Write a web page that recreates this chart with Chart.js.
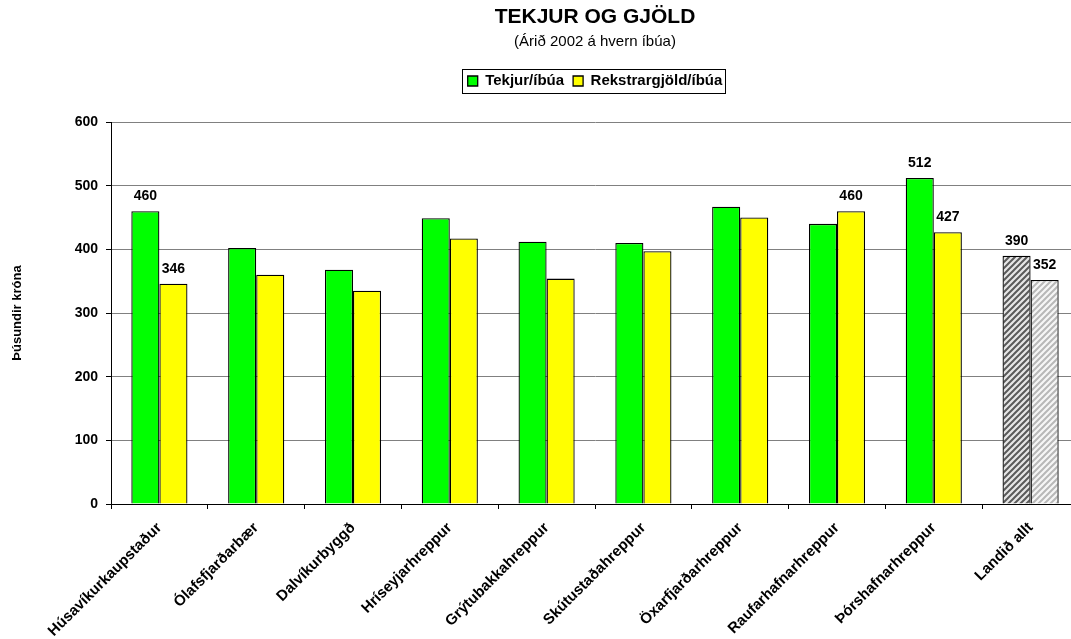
<!DOCTYPE html>
<html>
<head>
<meta charset="utf-8">
<script src="https://cdn.jsdelivr.net/npm/chart.js@4.4.1/dist/chart.umd.min.js"></script>
<style>
  html, body { margin: 0; padding: 0; background: #fff; overflow: hidden; }
  #wrap { width: 1080px; height: 639px; }
</style>
</head>
<body>
<div id="wrap"><canvas id="myChart"></canvas></div>
<script>
var sveitarfelog = ["Húsavíkurkaupstaður", "Ólafsfjarðarbær", "Dalvíkurbyggð", "Hríseyjarhreppur",
    "Grýtubakkahreppur", "Skútustaðahreppur", "Öxarfjarðarhreppur", "Raufarhafnarhreppur",
    "Þórshafnarhreppur", "Landið allt"];
var tekjur = [460, 402, 368, 449, 412, 410, 467, 440, 512, 390];
var gjold = [346, 360, 335, 417, 354, 397, 450, 460, 427, 352];
// hvaða súlur fá tölugildi
var merktTekjur = [0, 8, 9];
var merktGjold = [0, 7, 8, 9];
var yTicks = [0, 100, 200, 300, 400, 500, 600];

// skástrikað mynstur fyrir landið allt
function strik(lina, bakgrunnur) {
    var c = document.createElement("canvas");
    c.width = 6; c.height = 6;
    var g = c.getContext("2d");
    g.fillStyle = bakgrunnur;
    g.fillRect(0, 0, 6, 6);
    g.strokeStyle = lina;
    g.lineWidth = 2;
    g.beginPath();
    g.moveTo(-1, 7); g.lineTo(7, -1);
    g.moveTo(-4, 4); g.lineTo(4, -4);
    g.moveTo(2, 10); g.lineTo(10, 2);
    g.stroke();
    return g.createPattern(c, "repeat");
}
var ctx = document.getElementById("myChart").getContext("2d");
var landTekjur = strik("#5a5a5a", "#e6e6e6");
var landGjold = strik("#b8b8b8", "#f6f6f6");

var graenir = tekjur.map((v, i) => i == tekjur.length - 1 ? landTekjur : "#00ff00");
var gulir = gjold.map((v, i) => i == gjold.length - 1 ? landGjold : "#ffff00");

// bil milli skýringar og grafs
var bil = {
    id: "bil",
    beforeInit(chart) {
        Chart.layouts.addBox(chart, {
            position: "top", weight: 100, fullSize: false, options: {},
            isHorizontal: () => true,
            update(w, h) { this.width = w; this.height = 23.5; },
            draw() {}
        });
    }
};

// rammi um skýringu og tölur ofan á súlum
var teikna = {
    id: "teikna",
    afterDraw(chart) {
        var c = chart.ctx;
        var lg = chart.legend;
        if (lg && lg.legendHitBoxes.length) {
            var hb = lg.legendHitBoxes;
            var l = Math.min(...hb.map(h => h.left)) - 6;
            var r = Math.max(...hb.map(h => h.left + h.width)) + 2;
            var t = Math.min(...hb.map(h => h.top)) - 4.5;
            var b = Math.max(...hb.map(h => h.top + h.height)) + 4.5;
            c.save();
            c.strokeStyle = "#000";
            c.lineWidth = 1;
            c.strokeRect(Math.round(l) + 0.5, Math.round(t) + 0.5, Math.round(r - l), Math.round(b - t));
            c.restore();
        }
        c.save();
        c.font = "bold 14px 'Liberation Sans', Arial, sans-serif";
        c.fillStyle = "#000";
        c.textAlign = "center";
        c.textBaseline = "alphabetic";
        [[0, merktTekjur, tekjur], [1, merktGjold, gjold]].forEach(function (d) {
            var meta = chart.getDatasetMeta(d[0]);
            d[1].forEach(function (i) {
                var bar = meta.data[i];
                c.fillText(String(d[2][i]), bar.x, bar.y - 11);
            });
        });
        c.restore();
    }
};

Chart.defaults.font.family = "'Liberation Sans', Arial, sans-serif";
Chart.defaults.color = "#000";

new Chart(ctx, {
    type: "bar",
    data: {
        labels: sveitarfelog,
        datasets: [{
            label: "Tekjur/íbúa",
            data: tekjur,
            backgroundColor: graenir,
            borderColor: "#000",
            borderWidth: 1.3
        }, {
            label: "Rekstrargjöld/íbúa",
            data: gjold,
            backgroundColor: gulir,
            borderColor: "#000",
            borderWidth: 1.3
        }]
    },
    options: {
        responsive: true,
        maintainAspectRatio: false,
        animation: false,
        layout: { padding: { left: 0, right: 1, top: 0, bottom: 0 } },
        datasets: { bar: { barPercentage: 1, categoryPercentage: 0.58 } },
        plugins: {
            title: {
                display: true,
                text: "TEKJUR OG GJÖLD",
                fullSize: false,
                font: { size: 21, weight: "bold" },
                padding: { top: 5, bottom: 0 }
            },
            subtitle: {
                display: true,
                text: "(Árið 2002 á hvern íbúa)",
                fullSize: false,
                font: { size: 15 },
                padding: { top: 3, bottom: 13.3 }
            },
            legend: {
                display: true,
                fullSize: false,
                labels: {
                    boxWidth: 10,
                    boxHeight: 10,
                    padding: 9,
                    font: { size: 15, weight: "bold" }
                }
            },
            tooltip: { enabled: false }
        },
        scales: {
            x: {
                grid: { display: true, drawOnChartArea: false, color: "#000", tickLength: 5, offset: true },
                border: { color: "#000", width: 1 },
                ticks: { minRotation: 45, maxRotation: 45, autoSkip: false, font: { size: 15, weight: "bold" }, padding: 10 },
                afterFit: function (s) { s.height = 135; }
            },
            y: {
                min: 0,
                max: 600,
                afterBuildTicks: function (s) { s.ticks = yTicks.map(v => ({ value: v })); },
                grid: { color: "#808080", tickColor: "#000", tickLength: 5 },
                border: { color: "#000", width: 1 },
                ticks: { font: { size: 14, weight: "bold" }, padding: 8 },
                title: {
                    display: true,
                    text: "Þúsundir króna",
                    font: { size: 13, weight: "bold" },
                    padding: { top: 10, bottom: 0 }
                },
                afterFit: function (s) { s.width = 111; }
            }
        }
    },
    plugins: [bil, teikna]
});
</script>
</body>
</html>
